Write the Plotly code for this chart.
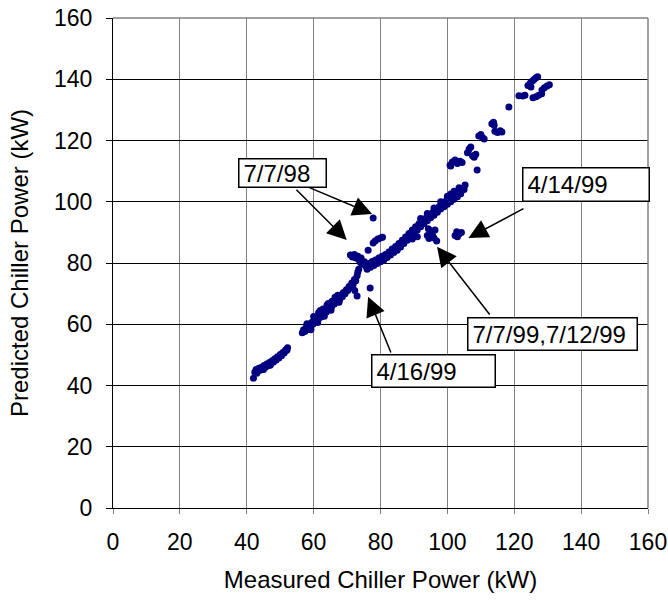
import plotly.graph_objects as go

# ---- data (measured kW, predicted kW) ----
seg_a_x = [42.0, 42.4, 42.8, 43.2, 43.6, 44.0, 44.4, 44.8, 45.2, 45.6, 46.0, 46.4, 46.8, 47.2, 47.6,
           48.0, 48.4, 48.8, 49.2, 49.6, 50.0, 50.4, 50.8, 51.2, 51.6, 52.0, 52.2, 43.0, 45.0, 47.0]
seg_a_y = [42.4, 44.3, 45.2, 44.6, 45.6, 45.0, 46.0, 45.5, 46.5, 46.0, 47.0, 46.5, 47.5, 47.0, 48.1,
           47.7, 48.7, 48.3, 49.4, 49.0, 50.1, 49.7, 50.8, 50.6, 51.6, 51.5, 52.3, 44.0, 45.2, 46.6]

seg_b_x = [56.6, 57.0, 57.4, 57.8, 58.2, 58.6, 59.0, 59.4, 59.8, 60.2, 60.6, 61.0, 61.4, 61.8, 62.2,
           62.6, 63.0, 63.4, 63.8, 64.2, 64.6, 65.0, 65.4, 65.8, 66.2, 66.6, 67.0, 67.4, 67.8, 68.2,
           68.6, 69.0, 69.4, 69.8, 70.2, 70.6, 71.0, 71.4, 71.8, 72.2, 72.6, 73.0, 73.2, 73.5, 68.8,
           73.0, 72.3, 61.5, 64.0, 62.8, 65.5, 67.2,
           58.0, 60.0, 62.0, 64.4, 66.4, 59.2, 61.2, 63.2, 65.2, 67.6]
seg_b_y = [57.2, 58.2, 57.6, 59.0, 58.3, 59.8, 59.2, 60.6, 60.0, 61.4, 60.8, 62.3, 61.6, 63.0, 62.4,
           63.8, 63.2, 64.6, 64.0, 65.5, 65.0, 66.4, 65.8, 67.2, 66.6, 67.8, 67.3, 68.6, 68.2, 69.5,
           69.0, 70.4, 70.0, 71.3, 71.0, 72.3, 72.0, 73.5, 73.0, 74.6, 74.2, 75.8, 77.0, 78.0, 70.2,
           69.2, 71.0, 63.8, 66.3, 65.0, 67.5, 69.5,
           60.2, 62.5, 64.5, 66.8, 68.8, 58.2, 60.6, 62.6, 64.6, 67.2]

seg_c_x = [71.0, 71.6, 72.2, 72.6, 73.2, 73.6, 74.2, 74.0, 74.6, 75.2, 75.6, 76.3, 77.8, 78.4, 79.2,
           80.0, 80.6, 77.8, 76.9]
seg_c_y = [82.6, 82.0, 82.8, 81.6, 82.2, 81.0, 81.6, 80.2, 79.6, 80.4, 79.0, 84.2, 86.5, 87.2, 87.8,
           88.2, 88.4, 94.7, 71.8]

seg_d_x = [76.0, 76.5, 77.0, 77.5, 78.0, 78.5, 79.0, 79.5, 80.0, 80.5, 81.0, 81.5, 82.0, 82.5, 83.0,
           83.5, 84.0, 84.5, 85.0, 85.5, 86.0, 86.5, 87.0, 87.5, 88.0, 88.5, 89.0, 89.5, 90.0, 90.5,
           91.0, 91.5, 92.0, 92.5, 93.0, 93.5, 94.0, 94.5, 95.0, 95.5, 96.0, 96.5, 97.0, 97.5, 98.0,
           98.5, 99.0, 99.5, 100.0, 100.5, 101.0, 101.5, 102.0, 102.5, 103.0, 103.5, 104.0, 104.5, 105.0, 105.3,
           92.0, 94.0, 96.0, 98.0, 100.0, 102.0, 103.5, 101.0, 89.5, 91.0]
seg_d_y = [78.0, 79.8, 78.6, 80.5, 79.2, 81.0, 79.8, 81.6, 80.4, 82.2, 81.0, 82.8, 81.8, 83.6, 82.6,
           84.6, 83.4, 85.4, 84.2, 86.4, 85.2, 87.4, 86.4, 88.5, 87.4, 89.6, 88.6, 90.8, 89.6, 91.8,
           90.8, 92.8, 91.8, 93.6, 92.8, 94.6, 93.8, 95.6, 94.8, 96.4, 95.6, 97.4, 96.6, 98.4, 97.6,
           99.4, 98.4, 100.2, 99.2, 101.0, 100.0, 101.8, 100.8, 102.6, 101.6, 103.4, 102.6, 104.4, 104.0, 105.5,
           94.5, 96.2, 98.0, 100.0, 101.8, 103.4, 104.6, 102.5, 87.8, 88.6]

seg_e_x = [94.0, 94.5, 95.0, 95.5, 96.0, 96.3, 96.8, 94.3, 102.3, 102.8, 103.5, 104.2, 103.0]
seg_e_y = [89.0, 88.0, 90.5, 89.4, 88.2, 90.8, 87.2, 91.2, 89.0, 90.2, 89.5, 90.0, 88.6]

seg_f_x = [100.8, 101.5, 102.3, 103.0, 103.8, 104.4, 101.0, 108.9, 106.0, 106.5, 107.5, 108.0, 108.5, 107.0,
           109.4, 110.0, 110.5, 111.0, 113.3, 113.8, 114.0, 114.2, 115.0, 115.8, 116.3, 118.4, 121.4, 122.5,
           123.2, 124.1, 124.8, 125.5, 126.0, 126.5, 127.0, 125.0, 128.3, 129.0, 129.8, 130.5, 125.6, 126.5,
           127.3, 128.2]
seg_f_y = [112.0, 113.0, 113.6, 112.5, 113.2, 112.8, 111.7, 110.4, 116.0, 117.2, 115.0, 114.5, 115.5, 117.9,
           121.5, 122.0, 121.0, 120.5, 125.5, 126.0, 125.0, 123.0, 122.6, 123.2, 122.8, 130.9, 134.6, 134.5,
           134.8, 138.0, 138.8, 139.5, 140.0, 140.5, 140.8, 137.5, 136.5, 137.2, 137.8, 138.2, 134.0, 134.3,
           134.8, 135.3]

measured_kw = seg_a_x + seg_b_x + seg_c_x + seg_d_x + seg_e_x + seg_f_x
predicted_kw = seg_a_y + seg_b_y + seg_c_y + seg_d_y + seg_e_y + seg_f_y

tick_vals = [0, 20, 40, 60, 80, 100, 120, 140, 160]

# labels: text, anchor x (fraction of plot width), anchor side, box centre y, box width, box height (px)
label_texts = ["7/7/98", "4/14/99", "7/7/99,7/12/99", "4/16/99"]
label_anchor_x = [0.2335, 1.0037, 0.6624, 0.4818]
label_anchor = ["left", "right", "left", "left"]
label_y = [109.3, 105.6, 56.7, 44.8]
label_w = [89, 128, 171, 125]
label_h = [30, 35, 34, 34]

# arrows: tail (x, y) -> tip (x, y)
arrow_tail_x = [54.4, 58.3, 123.2, 113.0, 83.3]
arrow_tail_y = [104.4, 104.8, 98.0, 62.7, 50.3]
arrow_tip_x = [69.9, 77.5, 106.3, 96.9, 76.3]
arrow_tip_y = [87.5, 96.0, 88.2, 85.3, 69.0]

FONT = "Liberation Sans, Arial, sans-serif"

fig = go.Figure()
fig.add_trace(go.Scatter(
    x=measured_kw, y=predicted_kw, mode="markers",
    marker=dict(color="#000080", size=7, line=dict(width=0)),
    showlegend=False, hoverinfo="skip"))

# grey plot-area border on top and right
fig.add_shape(type="line", xref="paper", yref="paper", x0=0, x1=1, y0=1, y1=1,
              line=dict(color="#808080", width=1.5), layer="above")
fig.add_shape(type="line", xref="paper", yref="paper", x0=1, x1=1, y0=0, y1=1,
              line=dict(color="#808080", width=1.5), layer="above")

BW = 1.5
PAD = 4
for t, x, anc, y, w, h in zip(label_texts, label_anchor_x, label_anchor, label_y, label_w, label_h):
    fig.add_annotation(
        x=x, y=y, xref="paper", yref="y", xanchor=anc, yanchor="middle",
        text=t, showarrow=False,
        width=w - 2 * (PAD + BW), height=h - 2 * (PAD + BW), align="left", valign="middle",
        bordercolor="black", borderwidth=BW, borderpad=PAD, bgcolor="white",
        font=dict(family=FONT, size=24, color="black"))

for tx, ty, hx, hy in zip(arrow_tail_x, arrow_tail_y, arrow_tip_x, arrow_tip_y):
    fig.add_annotation(
        x=hx, y=hy, ax=tx, ay=ty, xref="x", yref="y", axref="x", ayref="y",
        text="", showarrow=True, arrowhead=2, arrowsize=2.6, arrowwidth=1.5,
        arrowcolor="black", standoff=0, startstandoff=0)

fig.update_layout(
    width=668, height=601,
    margin=dict(l=113, r=20, t=18, b=93),
    paper_bgcolor="white", plot_bgcolor="white",
    font=dict(family=FONT, size=23, color="black"),
    xaxis=dict(
        range=[0, 160], tickvals=tick_vals, showgrid=True, gridcolor="#808080", gridwidth=1.3,
        showline=True, linecolor="black", linewidth=1.3, zeroline=False,
        ticks="outside", ticklen=5, tickcolor="#808080", tickwidth=1.3,
        ticklabelstandoff=8, ticklabeloverflow="allow",
        tickfont=dict(family=FONT, size=23, color="black"),
        title=dict(text="Measured Chiller Power (kW)", font=dict(family=FONT, size=24), standoff=17),
        automargin=False),
    yaxis=dict(
        range=[0, 160], tickvals=tick_vals, showgrid=True, gridcolor="black", gridwidth=1,
        showline=True, linecolor="black", linewidth=1.3, zeroline=False,
        ticks="outside", ticklen=6, tickcolor="black", tickwidth=1,
        ticklabelstandoff=9, ticklabeloverflow="allow",
        tickfont=dict(family=FONT, size=23, color="black"),
        title=dict(text="Predicted Chiller Power (kW)", font=dict(family=FONT, size=24), standoff=18),
        automargin=False),
)

fig.write_html(
    "out.html",
    config={"displayModeBar": False},
    post_script="document.body.style.margin='0';document.documentElement.style.overflow='hidden';document.body.style.overflow='hidden';",
)
